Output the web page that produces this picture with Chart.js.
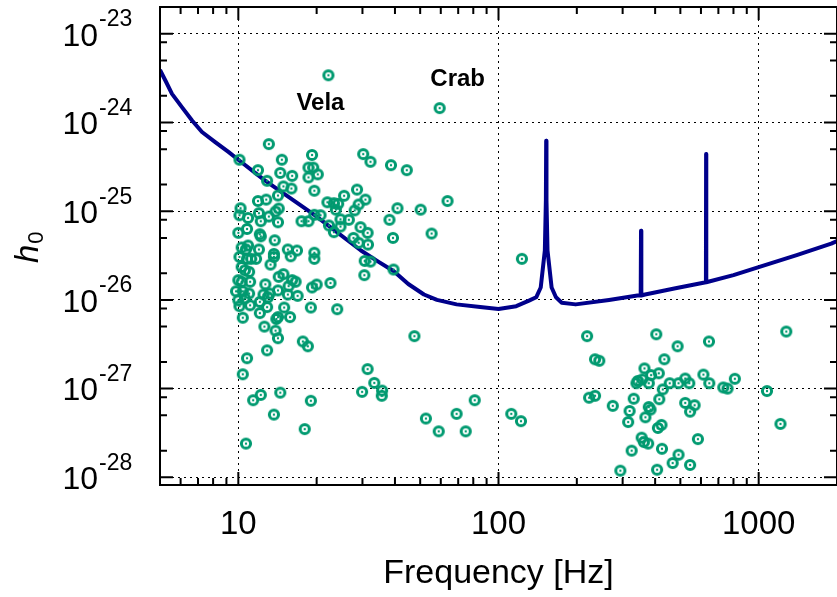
<!DOCTYPE html>
<html lang="en">
<head>
    <meta charset="UTF-8">
    <title>Pulsar h0 upper limits</title>
    <script src="https://cdn.jsdelivr.net/npm/chart.js"></script>
    <style>
        html, body {
            margin: 0;
            padding: 0;
            background: #fff;
            overflow: hidden;
        }
        #wrap {
            width: 844px;
            height: 597px;
        }
    </style>
</head>
<body>
    <div id="wrap"><canvas id="limits" width="844" height="597"></canvas></div>

    <script>
        // Detector sensitivity curve
        const curveFreq = [5, 5.25, 5.56, 6.08, 6.64, 7.25, 8.15, 9.16, 10, 12.6, 19.6, 29.6, 34.5, 39.6, 45, 51.7,
            58, 69, 85, 100, 117, 131, 139.6, 145.3, 150.7, 152.1, 152.5, 152.9, 154.3, 160, 166.3, 175, 198,
            266, 342, 352, 353, 354, 366, 479, 627, 628, 629, 800, 1000, 1400, 1900, 2000];
        const curveH = [3.9e-24, 2.95e-24, 2.1e-24, 1.48e-24, 1.05e-24, 7.8e-25, 6.0e-25, 4.65e-25, 3.8e-25,
            2.24e-25, 9.1e-26, 3.6e-26, 2.7e-26, 2.1e-26, 1.51e-26, 1.15e-26,
            1.0e-26, 8.9e-27, 8.3e-27, 7.9e-27, 8.5e-27, 9.8e-27, 1.07e-26, 1.38e-26, 3.6e-26, 1.32e-25,
            6.2e-25, 1.32e-25, 3.6e-26, 1.38e-26, 1.07e-26, 9.3e-27, 8.9e-27,
            1.0e-26, 1.12e-26, 1.12e-26, 6.0e-26, 1.12e-26, 1.15e-26, 1.35e-26, 1.58e-26, 4.4e-25, 1.58e-26,
            1.9e-26, 2.34e-26, 3.2e-26, 4.3e-26, 4.6e-26];

        // Pulsar upper limits: frequency [Hz] and h0
        const pulsarFreq = [
            13.1, 10.1, 19.2, 14.7, 11.9, 12.9, 14.5, 16.1, 18.6, 19.4,
            20.2, 18.6, 14.9, 16.0, 19.6, 14.2, 11.9, 12.8, 10.2, 10.1,
            10.9, 12.0, 12.2, 13.1, 13.9, 14.3, 14.2, 17.5, 18.6, 19.6,
            20.7, 10.0, 10.8, 12.1, 12.2, 13.8, 10.3, 10.9, 10.7, 12.0,
            13.7, 15.5, 16.8, 19.6,
            10.1, 10.8, 11.2, 11.7, 13.7, 15.9, 19.6, 13.3, 10.3, 10.6,
            11.0, 10.0, 10.3, 11.1, 12.7, 14.3, 14.9, 16.1, 16.6, 15.6,
            19.2, 20.0, 9.8, 10.4, 11.0, 12.5, 13.2, 14.2, 15.5, 16.9,
            10.0, 10.6, 12.1, 13.0, 10.1, 11.1, 12.9, 12.1, 15.0, 19.0,
            10.4, 14.2, 14.0, 15.8, 12.6, 13.9, 14.2, 17.7, 18.5, 12.9,
            10.8, 10.4,
            11.4, 12.2, 14.5, 19.0, 13.7, 18.0, 10.7,
            30.2, 32.2, 38.6, 44.4, 28.6, 25.5, 30.8, 29.0, 63.7, 22.0,
            23.3, 24.2, 23.7, 28.0, 40.9, 50.2, 24.7, 26.6, 38.1, 22.3,
            23.3, 24.7, 29.5, 31.4, 27.7, 29.0, 31.5, 39.3, 55.3, 30.6,
            32.2, 39.5, 30.5, 22.6,
            24.0, 47.5, 31.4, 33.3, 29.9, 35.7, 35.6, 52.6, 58.9, 69.0,
            74.8, 81.0, 112, 122,
            219, 404, 488, 644, 1277, 235, 244, 434, 364, 386,
            413, 343, 357, 378, 339, 455, 492, 522, 541, 613,
            646, 810, 731, 759, 428, 223, 235, 331, 415, 1076,
            275, 319, 378, 384, 367, 522, 567, 545, 315, 423,
            410, 1213, 355, 362, 376, 584, 325, 425, 492, 467,
            545, 294, 407,
            123, 22.2, 59.4
        ];
        const pulsarH = [
            5.7e-25, 3.8e-25, 4.3e-25, 3.8e-25, 2.9e-25, 2.2e-25, 2.7e-25, 2.5e-25, 3.1e-25, 3.1e-25,
            2.6e-25, 2.4e-25, 1.9e-25, 1.8e-25, 1.7e-25, 1.5e-25, 1.3e-25, 1.35e-25, 1.08e-25, 9.0e-26,
            8.4e-26, 9.5e-26, 7.7e-26, 8.7e-26, 9.9e-26, 1.07e-25, 7.5e-26, 7.7e-26, 7.7e-26, 9.1e-26,
            9.0e-26, 5.7e-26, 6.3e-26, 5.5e-26, 5.2e-26, 4.7e-26, 3.9e-26, 4.1e-26, 3.7e-26, 3.7e-26,
            3.3e-26, 3.7e-26, 3.6e-26, 3.4e-26,
            3.05e-26, 2.9e-26, 2.9e-26, 2.9e-26, 3.05e-26, 3.1e-26, 2.9e-26, 2.5e-26, 2.35e-26, 2.16e-26,
            2.07e-26, 1.67e-26, 1.6e-26, 1.6e-26, 1.5e-26, 1.82e-26, 1.95e-26, 1.67e-26, 1.6e-26, 1.43e-26,
            1.38e-26, 1.49e-26, 1.25e-26, 1.25e-26, 1.18e-26, 1.15e-26, 1.18e-26, 1.28e-26, 1.15e-26, 1.11e-26,
            9.9e-27, 1.04e-26, 9.5e-27, 1.07e-26, 8.5e-27, 8.7e-27, 8.3e-27, 7.1e-27, 8.2e-27, 8.2e-27,
            6.3e-27, 6.4e-27, 6.1e-27, 6.4e-27, 5.0e-27, 4.5e-27, 3.7e-27, 3.4e-27, 3.0e-27, 2.7e-27,
            2.2e-27, 1.45e-27,
            7.4e-28, 8.5e-28, 9.0e-28, 7.3e-28, 5.1e-28, 3.5e-28, 2.4e-28,
            4.4e-25, 3.6e-25, 3.3e-25, 2.9e-25, 1.75e-25, 1.49e-25, 1.35e-25, 1.19e-25, 1.3e-25, 1.26e-25,
            1.23e-25, 1.21e-25, 1.04e-25, 1.02e-25, 1.08e-25, 1.04e-25, 8.1e-26, 8.0e-26, 8.0e-26, 6.9e-26,
            5.8e-26, 6.7e-26, 6.6e-26, 5.7e-26, 5.0e-26, 4.4e-26, 4.2e-26, 5.0e-26, 5.6e-26, 2.75e-26,
            2.7e-26, 2.2e-26, 1.9e-26, 1.55e-26,
            7.85e-27, 3.9e-27, 1.66e-27, 1.16e-27, 9.2e-28, 9.5e-28, 8.3e-28, 4.6e-28, 3.3e-28, 5.2e-28,
            3.3e-28, 7.4e-28, 5.2e-28, 4.3e-28,
            3.9e-27, 4.1e-27, 3.0e-27, 3.4e-27, 4.4e-27, 2.14e-27, 2.06e-27, 2.14e-27, 1.69e-27, 1.42e-27,
            1.49e-27, 1.22e-27, 1.27e-27, 1.15e-27, 1.15e-27, 1.15e-27, 1.15e-27, 1.3e-27, 1.15e-27, 1.44e-27,
            1.15e-27, 1.29e-27, 1.03e-27, 1.0e-27, 9.8e-28, 7.9e-28, 8.3e-28, 7.7e-28, 7.6e-28, 9.4e-28,
            6.4e-28, 5.6e-28, 6.2e-28, 5.8e-28, 4.75e-28, 6.9e-28, 6.5e-28, 5.5e-28, 4.2e-28, 3.9e-28,
            3.6e-28, 4.0e-28, 2.8e-28, 2.5e-28, 2.4e-28, 2.7e-28, 2.0e-28, 2.1e-28, 1.8e-28, 1.45e-28,
            1.38e-28, 1.19e-28, 1.22e-28,
            2.9e-26, 3.4e-24, 1.45e-24
        ];

        // Named pulsars
        const namedPulsars = ['Vela', 'Crab'];
        const namedFreq = [22.2, 59.4];
        const namedH = [3.4e-24, 1.45e-24];

        // Tick labels
        const xTickValues = [10, 100, 1000];
        const yTickExponents = [-23, -24, -25, -26, -27, -28];

        const FONT = '"Liberation Sans", Arial, Helvetica, sans-serif';

        function isDecade(v) {
            const l = Math.log10(v);
            return Math.abs(l - Math.round(l)) < 1e-6;
        }
        // integer mantissa (1..9) or null for in-between ticks like 15
        function mantissa(v) {
            const e = Math.floor(Math.log10(v) + 1e-9);
            const m = v / Math.pow(10, e);
            return Math.abs(m - Math.round(m)) < 1e-6 ? Math.round(m) : null;
        }

        // ring with a centre dot, like the original markers
        const ring = document.createElement('canvas');
        ring.width = 16;
        ring.height = 16;
        const rc = ring.getContext('2d');
        rc.strokeStyle = '#009a70';
        rc.lineWidth = 3;
        rc.beginPath();
        rc.arc(8, 8, 4.6, 0, Math.PI * 2);
        rc.stroke();
        rc.fillStyle = '#009a70';
        rc.beginPath();
        rc.arc(8, 8, 1.2, 0, Math.PI * 2);
        rc.fill();

        // frame, inward ticks, 10^n labels, y title and pulsar names
        const framePlugin = {
            id: 'frame',
            afterDraw(chart) {
                const { ctx, chartArea: a, scales: { x, y } } = chart;
                ctx.save();
                ctx.strokeStyle = '#000';
                ctx.lineWidth = 2;
                ctx.beginPath();
                x.ticks.forEach(t => {
                    const m = mantissa(t.value);
                    if (m === null) return;
                    const px = x.getPixelForValue(t.value);
                    const len = m === 1 ? 13 : 7;
                    ctx.moveTo(px, a.bottom);
                    ctx.lineTo(px, a.bottom - len);
                    ctx.moveTo(px, a.top);
                    ctx.lineTo(px, a.top + len);
                });
                y.ticks.forEach(t => {
                    const m = mantissa(t.value);
                    if (![1, 2, 5, 8].includes(m)) return;
                    const py = y.getPixelForValue(t.value);
                    const len = m === 1 ? 13 : 7;
                    ctx.moveTo(a.left, py);
                    ctx.lineTo(a.left + len, py);
                    ctx.moveTo(a.right, py);
                    ctx.lineTo(a.right - len, py);
                });
                ctx.stroke();
                ctx.strokeRect(a.left, a.top, a.right - a.left, a.bottom - a.top);

                // y tick labels
                ctx.fillStyle = '#000';
                ctx.textBaseline = 'middle';
                yTickExponents.forEach(n => {
                    const py = y.getPixelForValue(Math.pow(10, n));
                    ctx.font = '32px ' + FONT;
                    ctx.textAlign = 'right';
                    ctx.fillText('10', 98, py + 3);
                    ctx.font = '23px ' + FONT;
                    ctx.textAlign = 'left';
                    ctx.fillText(String(n), 99, py - 14);
                });

                // y axis title h0
                ctx.save();
                ctx.translate(38, 263);
                ctx.rotate(-Math.PI / 2);
                ctx.textAlign = 'left';
                ctx.textBaseline = 'alphabetic';
                ctx.font = 'italic 33px ' + FONT;
                ctx.fillText('h', 0, 0);
                const hw = ctx.measureText('h').width;
                ctx.font = '22px ' + FONT;
                ctx.fillText('0', hw + 1, 5);
                ctx.restore();

                // names of the two famous pulsars
                const offsets = [[-8, 28], [18, -29]];
                ctx.font = 'bold 24px ' + FONT;
                ctx.textAlign = 'center';
                ctx.textBaseline = 'middle';
                namedPulsars.forEach((name, i) => {
                    const px = x.getPixelForValue(namedFreq[i]) + offsets[i][0];
                    const py = y.getPixelForValue(namedH[i]) + offsets[i][1];
                    ctx.fillText(name, px, py);
                });
                ctx.restore();
            }
        };

        const gridColor = c => (c.tick && isDecade(c.tick.value)) ? '#000' : 'rgba(0,0,0,0)';

        new Chart(document.getElementById('limits'), {
            type: 'scatter',
            data: {
                datasets: [
                    {
                        label: 'Pulsars',
                        data: pulsarFreq.map((f, i) => ({ x: f, y: pulsarH[i] })),
                        pointStyle: ring,
                        pointRadius: 6,
                        order: 0
                    },
                    {
                        label: 'Sensitivity',
                        data: curveFreq.map((f, i) => ({ x: f, y: curveH[i] })),
                        showLine: true,
                        borderColor: '#00008b',
                        borderWidth: 4,
                        borderJoinStyle: 'round',
                        pointRadius: 0,
                        tension: 0,
                        order: 1
                    }
                ]
            },
            options: {
                responsive: false,
                animation: false,
                events: [],
                layout: { padding: { top: 6, right: 1, left: 0, bottom: 0 } },
                plugins: {
                    legend: { display: false },
                    tooltip: { enabled: false }
                },
                scales: {
                    x: {
                        type: 'logarithmic',
                        min: 5,
                        max: 2000,
                        border: { display: false, dash: [2, 4] },
                        grid: {
                            drawTicks: true,
                            tickLength: 20,
                            tickColor: 'rgba(0,0,0,0)',
                            color: gridColor,
                            lineWidth: 1
                        },
                        ticks: {
                            autoSkip: false,
                            maxRotation: 0,
                            padding: 0,
                            color: '#000',
                            font: { family: FONT, size: 33 },
                            callback: v => xTickValues.includes(v) ? String(v) : ''
                        },
                        title: {
                            display: true,
                            text: 'Frequency [Hz]',
                            color: '#000',
                            font: { family: FONT, size: 34 },
                            padding: { top: 0, bottom: 3 }
                        },
                        afterFit: s => { s.height = 112; }
                    },
                    y: {
                        type: 'logarithmic',
                        min: 8.2e-29,
                        max: 2e-23,
                        border: { display: false, dash: [2, 4] },
                        grid: { drawTicks: false, color: gridColor, lineWidth: 1 },
                        ticks: { display: false },
                        afterFit: s => { s.width = 160; }
                    }
                }
            },
            plugins: [framePlugin]
        });
    </script>
</body>
</html>
